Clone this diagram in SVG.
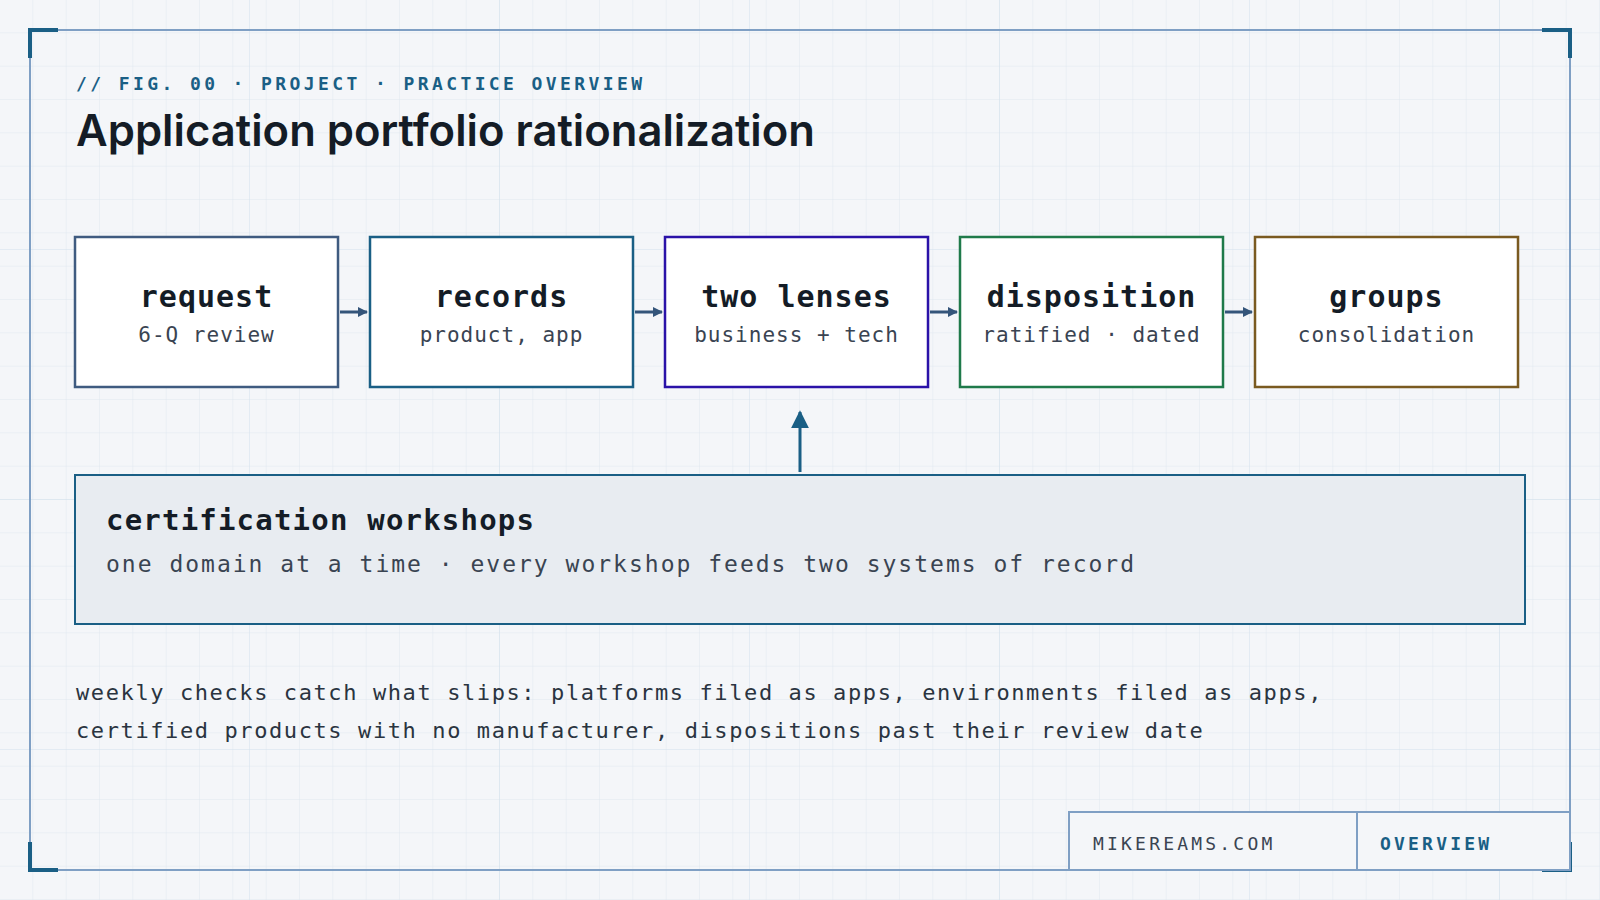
<svg xmlns="http://www.w3.org/2000/svg" width="1600" height="900" viewBox="0 0 1600 900">
<defs>
<pattern id="minor" width="33.333" height="33.333" patternUnits="userSpaceOnUse"><path d="M33.333 0V33.333H0" fill="none" stroke="#dfe8f0" stroke-width="1"/></pattern>
<pattern id="major" width="250" height="250" patternUnits="userSpaceOnUse"><path d="M250 0V250H0" fill="none" stroke="#d3e0ec" stroke-width="1"/></pattern>
<marker id="ah" viewBox="0 0 10 10" refX="9" refY="5" markerWidth="10" markerHeight="10" markerUnits="userSpaceOnUse" orient="auto"><path d="M0 0L10 5L0 10Z" fill="#34557a"/></marker>
<marker id="ah2" viewBox="0 0 10 10" refX="9" refY="5" markerWidth="18" markerHeight="18" markerUnits="userSpaceOnUse" orient="auto"><path d="M0 0L10 5L0 10Z" fill="#1a5f85"/></marker>
</defs>
<style>
.mono{font-family:"DejaVu Sans Mono","Liberation Mono",monospace}
.nt{font-size:30px;font-weight:bold;fill:#141c26;text-anchor:middle;letter-spacing:1px}
.ns{font-size:21px;fill:#3a4452;text-anchor:middle;letter-spacing:1px}
.box{fill:#fff;stroke-width:2.5}
</style>
<rect width="1600" height="900" fill="#f4f6f9"/>
<rect width="1600" height="900" fill="url(#minor)"/>
<rect width="1600" height="900" fill="url(#major)"/>
<rect x="30" y="30" width="1540" height="840" fill="none" stroke="#7f9fc4" stroke-width="2"/>
<g fill="none" stroke="#1a5f85" stroke-width="4">
<path d="M30 58V30H58"/><path d="M1542 30H1570V58"/><path d="M30 842V870H58"/><path d="M1570 842V870H1542"/>
</g>
<text x="76" y="90" class="mono" font-size="18" fill="#1a5f85" letter-spacing="3.4" font-weight="bold">// FIG. 00 · PROJECT · PRACTICE OVERVIEW</text>
<text x="76" y="146" font-family="Inter, 'Noto Sans', sans-serif" font-size="44" font-weight="600" fill="#141c26" textLength="739" lengthAdjust="spacingAndGlyphs">Application portfolio rationalization</text>
<g id="connectors" stroke="#34557a" stroke-width="3" fill="none">
<line x1="340" y1="312" x2="367" y2="312" marker-end="url(#ah)"/>
<line x1="635" y1="312" x2="662" y2="312" marker-end="url(#ah)"/>
<line x1="930" y1="312" x2="957" y2="312" marker-end="url(#ah)"/>
<line x1="1225" y1="312" x2="1252" y2="312" marker-end="url(#ah)"/>
<line x1="800" y1="472" x2="800" y2="412" stroke="#1a5f85" marker-end="url(#ah2)"/>
</g>
<g id="n-request"><rect class="box" x="75" y="237" width="263" height="150" stroke="#3f5b80"/><text class="mono nt" x="206.5" y="307">request</text><text class="mono ns" x="206.5" y="342">6-Q review</text></g>
<g id="n-records"><rect class="box" x="370" y="237" width="263" height="150" stroke="#1a5f85"/><text class="mono nt" x="501.5" y="307">records</text><text class="mono ns" x="501.5" y="342">product, app</text></g>
<g id="n-lenses"><rect class="box" x="665" y="237" width="263" height="150" stroke="#2a12a8"/><text class="mono nt" x="796.5" y="307">two lenses</text><text class="mono ns" x="796.5" y="342">business + tech</text></g>
<g id="n-disposition"><rect class="box" x="960" y="237" width="263" height="150" stroke="#1f7a4a"/><text class="mono nt" x="1091.5" y="307">disposition</text><text class="mono ns" x="1091.5" y="342">ratified · dated</text></g>
<g id="n-groups"><rect class="box" x="1255" y="237" width="263" height="150" stroke="#7a5a20"/><text class="mono nt" x="1386.5" y="307">groups</text><text class="mono ns" x="1386.5" y="342">consolidation</text></g>
<g id="n-workshops"><rect x="75" y="475" width="1450" height="149" fill="#e8ecf1" stroke="#1a5f85" stroke-width="2"/>
<text class="mono" x="106" y="530" font-size="29" font-weight="bold" fill="#141c26" letter-spacing="1.2">certification workshops</text>
<text class="mono" x="106" y="572" font-size="23" fill="#3a4452" letter-spacing="2">one domain at a time · every workshop feeds two systems of record</text></g>
<g class="mono" font-size="22" fill="#2a3440" letter-spacing="1.6">
<text x="76" y="700">weekly checks catch what slips: platforms filed as apps, environments filed as apps,</text>
<text x="76" y="738">certified products with no manufacturer, dispositions past their review date</text>
</g>
<g id="footer">
<rect x="1069" y="812" width="501" height="58" fill="#f4f6f9" stroke="#7f9fc4" stroke-width="2"/>
<line x1="1357" y1="812" x2="1357" y2="870" stroke="#7f9fc4" stroke-width="2"/>
<text class="mono" x="1093" y="850" font-size="18" fill="#3a4452" letter-spacing="3.2">MIKEREAMS.COM</text>
<text class="mono" x="1380" y="850" font-size="18" font-weight="bold" fill="#1a5f85" letter-spacing="3.2">OVERVIEW</text>
</g>
</svg>
